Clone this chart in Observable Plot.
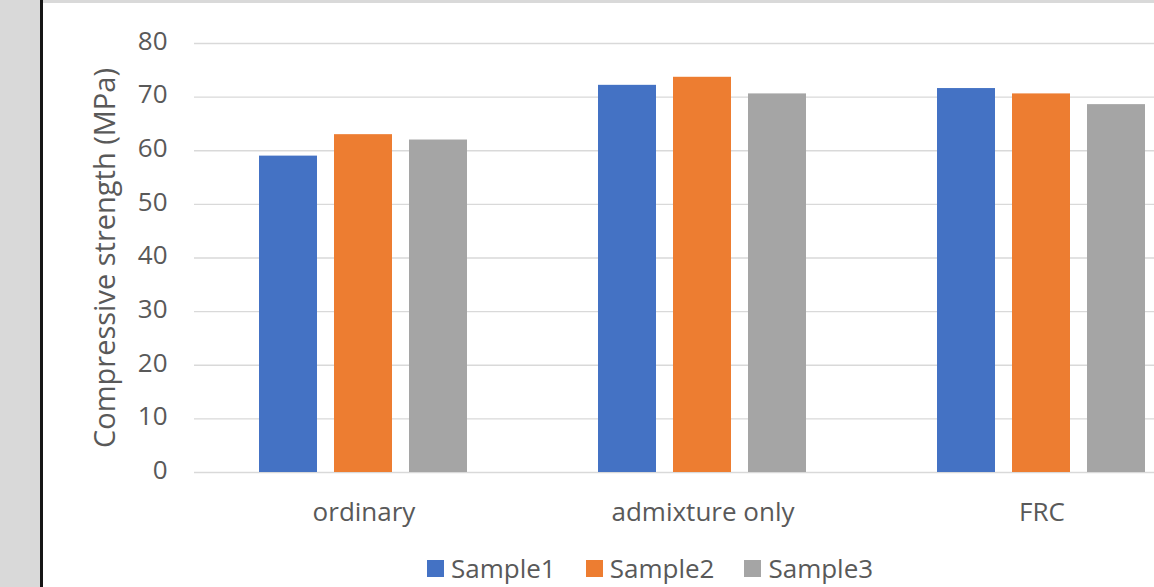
<!DOCTYPE html>
<html>
<head>
<meta charset="utf-8">
<script src="https://cdn.jsdelivr.net/npm/d3@7"></script>
<script src="https://cdn.jsdelivr.net/npm/@observablehq/plot@0.6"></script>
<style>
  html, body { margin: 0; padding: 0; overflow: hidden; background: #fff; width: 1154px; height: 587px; }
  #sidebar { position: absolute; left: 0; top: 0; width: 40px; height: 587px; background: #d9d9d9; }
  #edge { position: absolute; left: 40px; top: 0; width: 3px; height: 587px; background: #161616; }
  #topband { position: absolute; left: 43px; top: 0; right: 0; height: 3px; background: #d9d9d9; z-index: 2; }
  #chart { position: absolute; left: 0; top: 0; width: 1212px; }
  #chart svg { max-width: none !important; }
  #legend { position: absolute; left: 427px; top: 550px; }
  .lg-swatch { margin-right: 30px !important; }
  .lg-swatch > svg { margin-right: 7px !important; }
</style>
</head>
<body>
<div id="chart"></div>
<div id="sidebar"></div>
<div id="edge"></div>
<div id="topband"></div>
<div id="legend"></div>
<script>
// Mix designs along the x axis
const categories = ["ordinary", "admixture only", "FRC"];
// Specimens tested for each mix
const samples = ["Sample1", "Sample2", "Sample3"];
// Compressive strength (MPa) of each specimen, one array per sample
const sample1 = [59.0, 72.2, 71.6];
const sample2 = [63.0, 73.7, 70.6];
const sample3 = [62.0, 70.6, 68.6];
const sampleColors = ["#4472C4", "#ED7D31", "#A5A5A5"];
const yTicks = [0, 10, 20, 30, 40, 50, 60, 70, 80];

const seriesValues = [sample1, sample2, sample3];
const rows = [];
categories.forEach((cat, i) => {
  samples.forEach((s, j) => {
    rows.push({category: cat, sample: s, value: seriesValues[j][i]});
  });
});

const font = "'Open Sans', sans-serif";
const textColor = "#595959";

const chart = Plot.plot({
  width: 1212,
  height: 545,
  marginLeft: 193,
  marginRight: 0,
  marginTop: 43,
  marginBottom: 73,
  style: {fontFamily: font, fontSize: "26px", color: textColor, background: "transparent", overflow: "visible", maxWidth: "none"},
  fx: {domain: categories, padding: 0, label: null},
  x: {domain: samples, paddingInner: 0.224, paddingOuter: 0.845, axis: null},
  y: {domain: [0, 80]},
  color: {domain: samples, range: sampleColors},
  marks: [
    Plot.ruleY(yTicks, {stroke: "#d9d9d9", strokeWidth: 1.4}),
    Plot.barY(rows, {fx: "category", x: "sample", y: "value", fill: "sample"}),
    // tick values
    Plot.axisY({ticks: yTicks, tickSize: 0, tickPadding: 27, dy: -2, label: null}),
    // axis title, drawn on its own so it can take a larger size
    Plot.axisY({
      ticks: [], tickSize: 0, fontSize: 29,
      label: "Compressive strength (MPa)", labelAnchor: "center", labelOffset: 100,
      labelArrow: "none"
    }),
    Plot.axisFx({anchor: "bottom", tickSize: 0, tickPadding: 30, label: null})
  ]
});
document.getElementById("chart").append(chart);

const legend = Plot.legend({
  color: {domain: samples, range: sampleColors},
  legend: "swatches",
  swatchSize: 17,
  className: "lg",
  style: {fontFamily: font, fontSize: "26px", color: textColor, margin: 0}
});
document.getElementById("legend").append(legend);
</script>
</body>
</html>
